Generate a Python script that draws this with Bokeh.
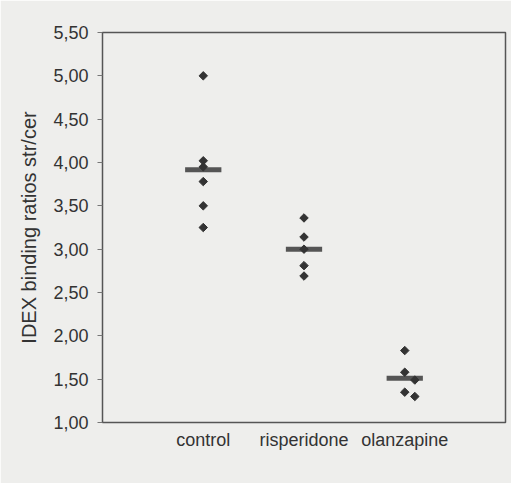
from bokeh.plotting import figure
from bokeh.models import FixedTicker, Range1d, BoxAnnotation
from bokeh.embed import file_html
from bokeh.resources import INLINE
import math

categories = ["control", "risperidone", "olanzapine"]

control_vals = [5.00, 4.02, 3.95, 3.78, 3.50, 3.25]
risperidone_vals = [3.36, 3.14, 3.00, 2.81, 2.69]
olanzapine_vals = [1.83, 1.58, 1.49, 1.35, 1.30]
# small horizontal jitter (in category units) as printed
control_jitter = [0, 0, 0, 0, 0, 0]
risperidone_jitter = [0, 0, 0, 0, 0]
olanzapine_jitter = [0, 0, 0.1, 0, 0.1]

y_ticks = [1.0, 1.5, 2.0, 2.5, 3.0, 3.5, 4.0, 4.5, 5.0, 5.5]

groups = [control_vals, risperidone_vals, olanzapine_vals]
jitters = [control_jitter, risperidone_jitter, olanzapine_jitter]

xs, ys = [], []
for i, (vals, jit) in enumerate(zip(groups, jitters)):
    for v, j in zip(vals, jit):
        xs.append(i + 1 + j)
        ys.append(v)
means = [sum(v) / len(v) for v in groups]

BG = "#eeeeec"
FONT = "Liberation Sans"

p = figure(width=511, height=483, output_backend="svg", toolbar_location=None,
           x_range=Range1d(0, 4), y_range=Range1d(1.0, 5.5),
           min_border_left=102, min_border_right=6, min_border_top=32, min_border_bottom=61)
p.background_fill_color = BG
p.border_fill_color = BG
p.outline_line_color = "#555555"
p.outline_line_width = 1.5
p.grid.visible = False

# left axis
ya = p.yaxis[0]
ya.ticker = FixedTicker(ticks=y_ticks)
ya.major_label_overrides = {t: f"{t:.2f}".replace(".", ",") for t in y_ticks}
ya.axis_label = "IDEX binding ratios str/cer"
ya.axis_label_text_font = FONT
ya.axis_label_text_font_size = "20px"
ya.axis_label_text_font_style = "normal"
ya.axis_label_text_color = "#333333"
ya.axis_label_standoff = 10
ya.major_label_text_font = FONT
ya.major_label_text_font_size = "18px"
ya.major_label_text_color = "#333333"
ya.major_label_standoff = 9
ya.major_tick_out = 5
ya.major_tick_in = 0
ya.minor_tick_out = 0
ya.minor_tick_in = 0
ya.axis_line_color = "#555555"
ya.major_tick_line_color = "#777777"

# bottom axis with category names
xa = p.xaxis[0]
xa.ticker = FixedTicker(ticks=[1, 2, 3])
xa.major_label_overrides = {i + 1: c for i, c in enumerate(categories)}
xa.major_label_text_font = FONT
xa.major_label_text_font_size = "18px"
xa.major_label_text_color = "#333333"
xa.major_label_standoff = 7
xa.major_tick_out = 0
xa.major_tick_in = 0
xa.minor_tick_out = 0
xa.minor_tick_in = 0
xa.axis_line_color = None

# mean bars
mx = [i + 1 for i in range(len(categories))]
p.segment(x0=[x - 0.18 for x in mx], x1=[x + 0.18 for x in mx], y0=means, y1=means,
          line_color="#555555", line_width=5)

# points
p.scatter(x=xs, y=ys, marker="square", angle=math.pi / 4, size=6,
          fill_color="#333333", line_color="#333333")

# thin outer border of the printed figure
outer = BoxAnnotation(left=5, right=520, top=4, bottom=490,
                      left_units="canvas", right_units="canvas",
                      top_units="canvas", bottom_units="canvas",
                      fill_color=None, line_color="#aaaaaa", line_width=1.5,
                      propagate_hover=False)
outer.level = "underlay"
p.add_layout(outer)

open("out.html", "w").write(file_html(p, INLINE))
